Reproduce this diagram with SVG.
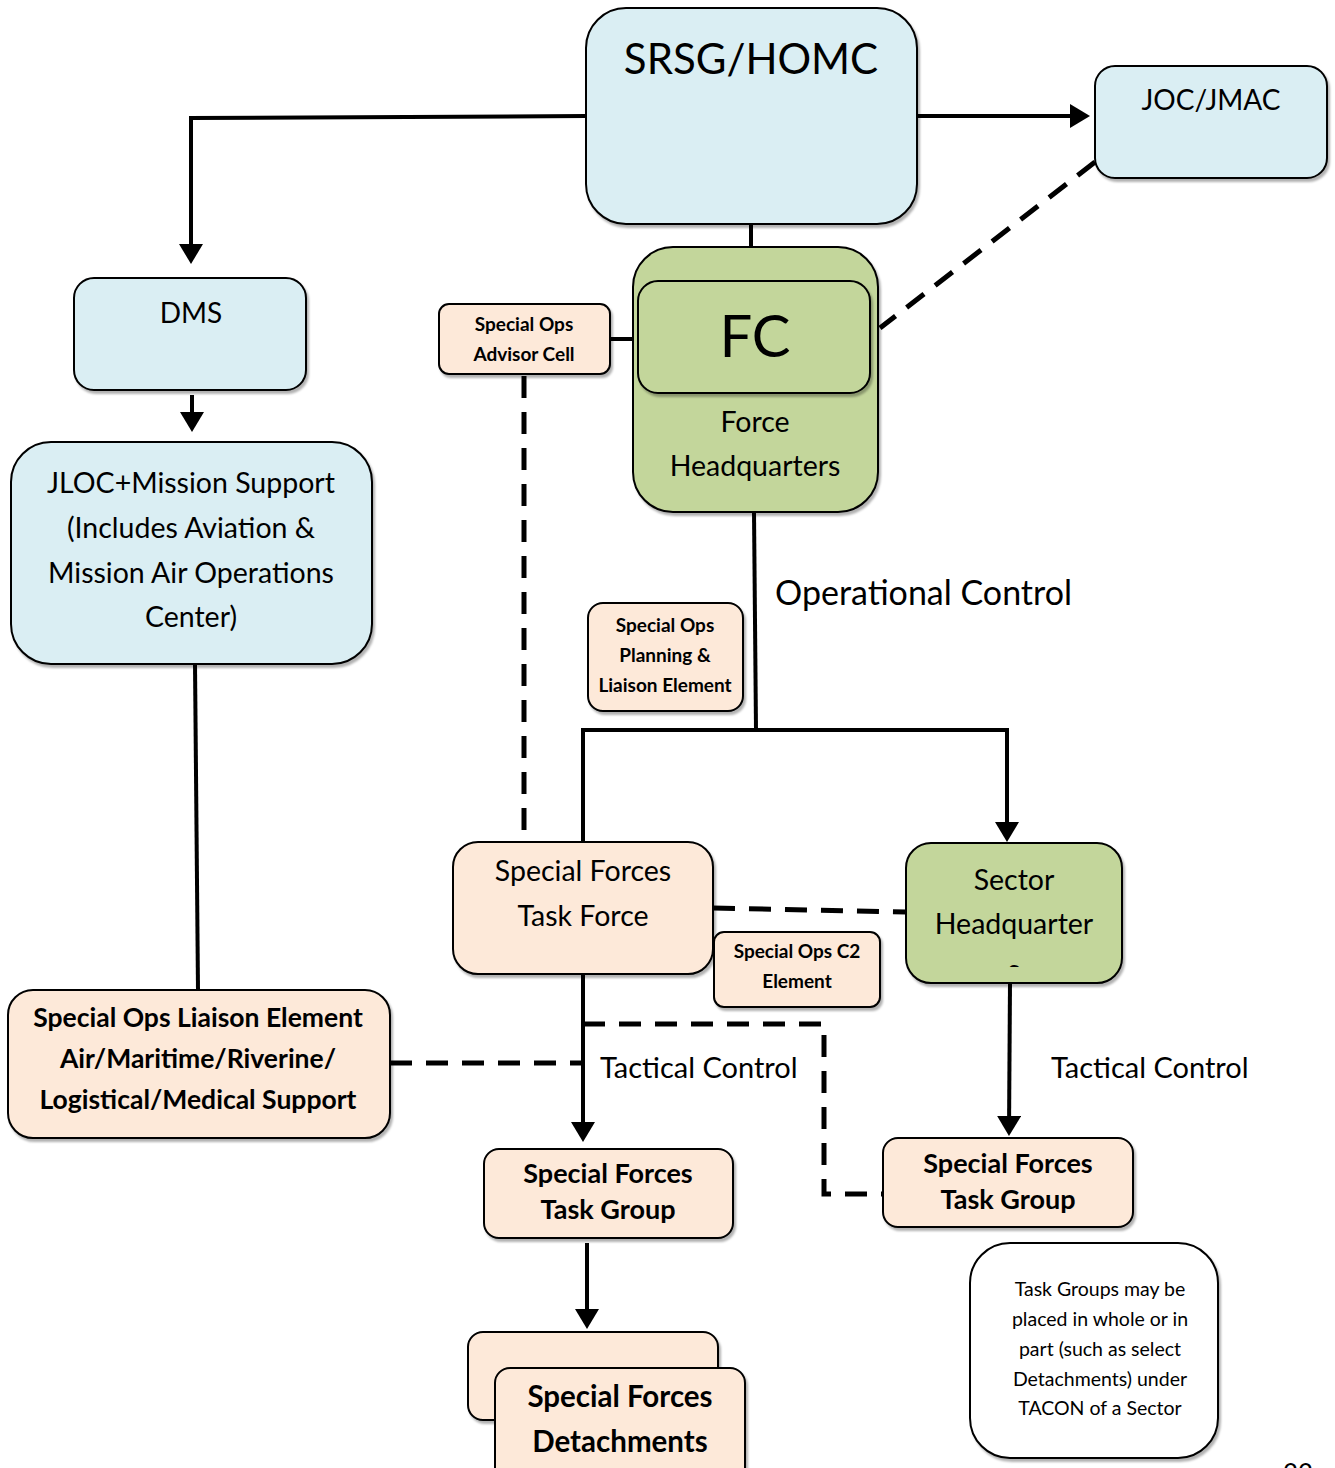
<svg xmlns="http://www.w3.org/2000/svg" width="1335" height="1468" viewBox="0 0 1335 1468">
<defs>
<style>
text{font-family:Lato,"Noto Sans","Liberation Sans",sans-serif;fill:#000;text-anchor:middle}
.b{font-weight:bold}
.blue{fill:#DAEEF3;stroke:#000;stroke-width:2}
.green{fill:#C3D69B;stroke:#000;stroke-width:2}
.peach{fill:#FDE9D9;stroke:#000;stroke-width:2}
.white{fill:#fff;stroke:#000;stroke-width:2}
.ln{fill:none;stroke:#000;stroke-width:4}
.dash{fill:none;stroke:#000;stroke-width:5;stroke-dasharray:22 14}
</style>
<filter id="sh" x="-5%" y="-5%" width="115%" height="115%">
<feDropShadow dx="2" dy="3" stdDeviation="1.2" flood-color="#000" flood-opacity="0.3"/>
</filter>
<marker id="ah" markerWidth="6" markerHeight="6" refX="4" refY="3" orient="auto" markerUnits="strokeWidth">
<path d="M0,0 L5,3 L0,6 z" fill="#000"/>
</marker>
<clipPath id="shqclip"><rect x="906" y="843" width="216" height="124"/></clipPath>
</defs>
<rect width="1335" height="1468" fill="#fff"/>

<g id="connectors">
<path class="ln" d="M917,116 L1086,116" marker-end="url(#ah)"/>
<path class="ln" d="M586,116 L191,118 L191,260" marker-end="url(#ah)"/>
<path class="ln" d="M192,395 L192,428" marker-end="url(#ah)"/>
<path class="ln" d="M195,664 L198,990"/>
<path class="ln" d="M751,224 L751,247"/>
<path class="ln" d="M610,339 L633,339"/>
<path class="dash" d="M1095,162 L880,328"/>
<path class="dash" d="M524,376 L524,842"/>
<path class="ln" d="M754,512 L756,730"/>
<path class="ln" d="M583,842 L583,730 L1007,730 L1007,838" marker-end="url(#ah)"/>
<path class="dash" d="M713,908 L906,912"/>
<path class="ln" d="M583,974 L583,1138" marker-end="url(#ah)"/>
<path class="dash" d="M583,1024 L824,1024 L824,1194 L883,1194"/>
<path class="dash" d="M390,1063 L583,1063"/>
<path class="ln" d="M1010,983 L1009,1132" marker-end="url(#ah)"/>
<path class="ln" d="M587,1243 L587,1325" marker-end="url(#ah)"/>
</g>

<g id="labels">
<text x="775" y="605" style="font-size:34px;text-anchor:start">Operational Control</text>
<text x="600" y="1078" style="font-size:29px;text-anchor:start">Tactical Control</text>
<text x="1051" y="1078" style="font-size:29px;text-anchor:start">Tactical Control</text>
</g>

<g id="srsg">
<rect class="blue" filter="url(#sh)" x="586" y="8" width="331" height="216" rx="40"/>
<text x="751" y="74" style="font-size:42px">SRSG/HOMC</text>
</g>

<g id="jocjmac">
<rect class="blue" filter="url(#sh)" x="1095" y="66" width="232" height="112" rx="20"/>
<text x="1211" y="110" style="font-size:28px">JOC/JMAC</text>
</g>

<g id="dms">
<rect class="blue" filter="url(#sh)" x="74" y="278" width="232" height="112" rx="20"/>
<text x="191" y="323" style="font-size:28px">DMS</text>
</g>

<g id="jloc">
<rect class="blue" filter="url(#sh)" x="11" y="442" width="361" height="222" rx="40"/>
<text x="191" y="493" style="font-size:28.5px">JLOC+Mission Support</text>
<text x="191" y="538" style="font-size:28.5px">(Includes Aviation &amp;</text>
<text x="191" y="583" style="font-size:28.5px">Mission Air Operations</text>
<text x="191" y="627" style="font-size:28.5px">Center)</text>
</g>

<g id="soliaison">
<rect class="peach" filter="url(#sh)" x="8" y="990" width="382" height="148" rx="25"/>
<text class="b" x="198" y="1027" style="font-size:26.5px">Special Ops Liaison Element</text>
<text class="b" x="198" y="1068" style="font-size:26.5px">Air/Maritime/Riverine/</text>
<text class="b" x="198" y="1109" style="font-size:26.5px">Logistical/Medical Support</text>
</g>

<g id="fc">
<rect class="green" filter="url(#sh)" x="633" y="247" width="245" height="265" rx="40"/>
<rect class="green" filter="url(#sh)" x="638" y="281" width="232" height="112" rx="20"/>
<text x="755" y="357" style="font-size:58px">FC</text>
<text x="755" y="432" style="font-size:28.5px">Force</text>
<text x="755" y="476" style="font-size:28.5px">Headquarters</text>
</g>

<g id="soadvisor">
<rect class="peach" filter="url(#sh)" x="439" y="304" width="171" height="70" rx="10"/>
<text class="b" x="524" y="331" style="font-size:19px">Special Ops</text>
<text class="b" x="524" y="361" style="font-size:19px">Advisor Cell</text>
</g>

<g id="soplanning">
<rect class="peach" filter="url(#sh)" x="588" y="603" width="155" height="108" rx="15"/>
<text class="b" x="665" y="632" style="font-size:19px">Special Ops</text>
<text class="b" x="665" y="662" style="font-size:19px">Planning &amp;</text>
<text class="b" x="665" y="692" style="font-size:19px">Liaison Element</text>
</g>

<g id="sftf">
<rect class="peach" filter="url(#sh)" x="453" y="842" width="260" height="132" rx="25"/>
<text x="583" y="881" style="font-size:28.5px">Special Forces</text>
<text x="583" y="926" style="font-size:28.5px">Task Force</text>
</g>

<g id="sectorhq">
<rect class="green" filter="url(#sh)" x="906" y="843" width="216" height="140" rx="25"/>
<text x="1014" y="890" style="font-size:28.5px">Sector</text>
<text x="1014" y="934" style="font-size:28.5px">Headquarter</text>
<text x="1014" y="980" clip-path="url(#shqclip)" style="font-size:28.5px">s</text>
</g>

<g id="soc2">
<rect class="peach" filter="url(#sh)" x="714" y="932" width="166" height="75" rx="10"/>
<text class="b" x="797" y="958" style="font-size:19px">Special Ops C2</text>
<text class="b" x="797" y="988" style="font-size:19px">Element</text>
</g>

<g id="sftg1">
<rect class="peach" filter="url(#sh)" x="484" y="1149" width="249" height="89" rx="15"/>
<text class="b" x="608" y="1183" style="font-size:27px">Special Forces</text>
<text class="b" x="608" y="1219" style="font-size:27px">Task Group</text>
</g>

<g id="sftg2">
<rect class="peach" filter="url(#sh)" x="883" y="1138" width="250" height="89" rx="15"/>
<text class="b" x="1008" y="1173" style="font-size:27px">Special Forces</text>
<text class="b" x="1008" y="1209" style="font-size:27px">Task Group</text>
</g>

<g id="sfdet">
<rect class="peach" filter="url(#sh)" x="468" y="1332" width="250" height="88" rx="15"/>
<rect class="peach" filter="url(#sh)" x="495" y="1368" width="250" height="115" rx="15"/>
<text class="b" x="620" y="1407" style="font-size:29.5px">Special Forces</text>
<text class="b" x="620" y="1452" style="font-size:29.5px">Detachments</text>
</g>

<g id="note">
<rect class="white" filter="url(#sh)" x="970" y="1243" width="248" height="215" rx="40"/>
<text x="1100" y="1296" style="font-size:19.5px">Task Groups may be</text>
<text x="1100" y="1326" style="font-size:19.5px">placed in whole or in</text>
<text x="1100" y="1356" style="font-size:19.5px">part (such as select</text>
<text x="1100" y="1386" style="font-size:19.5px">Detachments) under</text>
<text x="1100" y="1415" style="font-size:19.5px">TACON of a Sector</text>
</g>

<g id="pagenum">
<text x="1298" y="1483" style="font-size:26px">22</text>
</g>
</svg>
